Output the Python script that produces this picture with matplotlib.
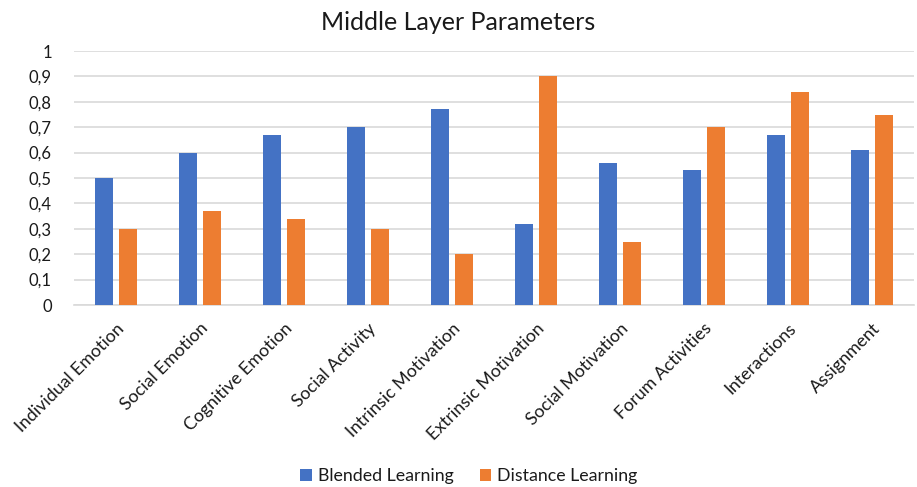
import matplotlib
matplotlib.use("Agg")
import matplotlib.pyplot as plt
import numpy as np
from matplotlib.ticker import FuncFormatter

plt.rcParams['font.family'] = ['Lato', 'DejaVu Sans']

categories = ["Individual Emotion", "Social Emotion", "Cognitive Emotion", "Social Activity",
              "Intrinsic Motivation", "Extrinsic Motivation", "Social Motivation",
              "Forum Activities", "Interactions", "Assignment"]
blended = [0.50, 0.60, 0.67, 0.70, 0.77, 0.32, 0.56, 0.53, 0.67, 0.61]
distance = [0.30, 0.37, 0.34, 0.30, 0.20, 0.90, 0.25, 0.70, 0.84, 0.75]
series_names = ["Blended Learning", "Distance Learning"]
yticks = [0, 0.1, 0.2, 0.3, 0.4, 0.5, 0.6, 0.7, 0.8, 0.9, 1.0]

BLUE = "#4472C4"
ORANGE = "#ED7D31"
GRID = "#D9D9D9"
TEXT = "#1a1a1a"

W, H = 917, 487
fig = plt.figure(figsize=(W / 100, H / 100), dpi=100)
ax = fig.add_axes([74 / W, (H - 305) / H, (914 - 74) / W, (305 - 51) / H])

x = np.arange(len(categories))
bw = 0.22
off = 0.143
ax.bar(x - off, blended, bw, color=BLUE, label=series_names[0], zorder=3)
ax.bar(x + off, distance, bw, color=ORANGE, label=series_names[1], zorder=3)

ax.set_xlim(-0.5, len(categories) - 0.5)
ax.set_ylim(0, 1)
ax.set_yticks(yticks)
ax.yaxis.set_major_formatter(FuncFormatter(
    lambda v, p: "0" if v == 0 else ("1" if abs(v - 1) < 1e-9 else f"{v:.1f}".replace(".", ","))))
ax.grid(axis='y', color=GRID, linewidth=1.2, zorder=0)
for s in ['top', 'right', 'left']:
    ax.spines[s].set_visible(False)
ax.spines['bottom'].set_color(GRID)
ax.spines['bottom'].set_linewidth(1.2)
ax.tick_params(axis='both', length=0, labelsize=12, colors=TEXT)
ax.tick_params(axis='y', pad=16)

ax.set_xticks(x)
ax.set_xticklabels(categories, rotation=45, ha='right', va='top',
                   rotation_mode='anchor', fontsize=12.8, color=TEXT)
ax.tick_params(axis='x', pad=11)

fig.text(0.5, 1 - 22 / H, "Middle Layer Parameters", ha='center', va='center',
         fontsize=18, color=TEXT)

leg = fig.legend(loc='center', bbox_to_anchor=(469 / W, 1 - 476 / H), ncol=2, frameon=False,
                 fontsize=12.8, handlelength=0.65, handleheight=0.65, handletextpad=0.35,
                 columnspacing=1.45)
for t in leg.get_texts():
    t.set_color(TEXT)

fig.savefig("out.png", dpi=100)
